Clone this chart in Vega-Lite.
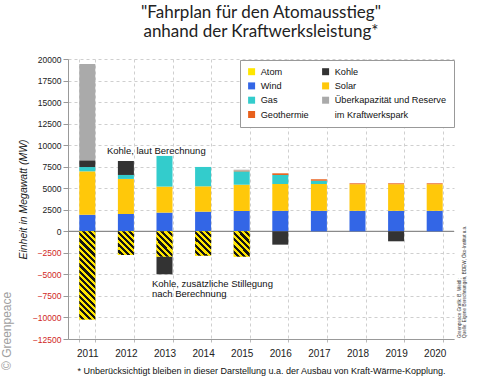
{
  "$schema": "https://vega.github.io/schema/vega-lite/v6.json",
  "width": 386,
  "height": 280,
  "autosize": {"type": "none"},
  "padding": {"left": 68, "top": 59, "right": 26, "bottom": 41},
  "background": "white",
  "config": {
    "view": {"stroke": null},
    "font": "Liberation Sans",
    "axis": {"labelFont": "Liberation Sans", "titleFont": "Liberation Sans"},
    "axisX": {"labelAngle": 0, "labelFontSize": 10, "labelColor": "#222", "labelPadding": 6, "tickBand": "extent", "grid": true, "gridDash": [3, 3], "gridColor": "#cfcfcf", "domainColor": "#999", "tickColor": "#bbb", "tickSize": 3},
    "axisY": {"grid": true, "gridDash": [3, 3], "gridColor": "#cfcfcf", "domainColor": "#999", "tickColor": "#999", "tickSize": 5, "labelFontSize": 8.5, "labelPadding": 2, "labelOverlap": false}
  },
  "title": {
    "text": ["\"Fahrplan für den Atomausstieg\"", "anhand der Kraftwerksleistung*"],
    "font": "Lato", "fontSize": 17, "fontWeight": "normal", "color": "#222",
    "lineHeight": 19, "anchor": "middle", "frame": "group", "offset": 14
  },
  "datasets": {
    "power": [
      {"year": "2011", "type": "Wind", "mw": 1920},
      {"year": "2011", "type": "Solar", "mw": 5040},
      {"year": "2011", "type": "Gas", "mw": 500},
      {"year": "2011", "type": "Kohle", "mw": 780},
      {"year": "2011", "type": "Überkapazität und Reserve im Kraftwerkspark", "mw": 11180},
      {"year": "2011", "type": "Atom", "mw": -10250},
      {"year": "2012", "type": "Wind", "mw": 2010},
      {"year": "2012", "type": "Solar", "mw": 4070},
      {"year": "2012", "type": "Gas", "mw": 460},
      {"year": "2012", "type": "Kohle", "mw": 1620},
      {"year": "2012", "type": "Atom", "mw": -2750},
      {"year": "2013", "type": "Wind", "mw": 2170},
      {"year": "2013", "type": "Solar", "mw": 3020},
      {"year": "2013", "type": "Gas", "mw": 3560},
      {"year": "2013", "type": "Atom", "mw": -2940},
      {"year": "2013", "type": "Kohle", "mw": -2050},
      {"year": "2014", "type": "Wind", "mw": 2280},
      {"year": "2014", "type": "Solar", "mw": 2940},
      {"year": "2014", "type": "Gas", "mw": 2250},
      {"year": "2014", "type": "Atom", "mw": -2830},
      {"year": "2015", "type": "Wind", "mw": 2360},
      {"year": "2015", "type": "Solar", "mw": 3050},
      {"year": "2015", "type": "Gas", "mw": 1550},
      {"year": "2015", "type": "Geothermie", "mw": 90},
      {"year": "2015", "type": "Überkapazität und Reserve im Kraftwerkspark", "mw": 100},
      {"year": "2015", "type": "Atom", "mw": -2940},
      {"year": "2016", "type": "Wind", "mw": 2380},
      {"year": "2016", "type": "Solar", "mw": 3110},
      {"year": "2016", "type": "Gas", "mw": 1050},
      {"year": "2016", "type": "Geothermie", "mw": 190},
      {"year": "2016", "type": "Kohle", "mw": -1550},
      {"year": "2017", "type": "Wind", "mw": 2380},
      {"year": "2017", "type": "Solar", "mw": 3110},
      {"year": "2017", "type": "Gas", "mw": 380},
      {"year": "2017", "type": "Geothermie", "mw": 170},
      {"year": "2018", "type": "Wind", "mw": 2380},
      {"year": "2018", "type": "Solar", "mw": 3090},
      {"year": "2018", "type": "Geothermie", "mw": 100},
      {"year": "2019", "type": "Wind", "mw": 2380},
      {"year": "2019", "type": "Solar", "mw": 3090},
      {"year": "2019", "type": "Geothermie", "mw": 100},
      {"year": "2019", "type": "Kohle", "mw": -1160},
      {"year": "2020", "type": "Wind", "mw": 2380},
      {"year": "2020", "type": "Solar", "mw": 3090},
      {"year": "2020", "type": "Geothermie", "mw": 100}
    ]
  },
  "layer": [
    {
      "data": {"values": [{}]},
      "mark": {"type": "rule", "color": "#8a8a8a", "strokeWidth": 1.2},
      "encoding": {
        "y": {"datum": 0, "type": "quantitative", "scale": {"domain": [-12500, 20000], "nice": false, "zero": false}}
      }
    },
    {
      "data": {"name": "power"},
      "transform": [
        {"calculate": "indexof(['Atom','Wind','Solar','Gas','Geothermie','Kohle','Überkapazität und Reserve im Kraftwerkspark'], datum.type)", "as": "ord"}
      ],
      "mark": {"type": "bar", "stroke": null},
      "encoding": {
        "x": {
          "field": "year", "type": "nominal",
          "scale": {"paddingInner": 0.585, "paddingOuter": 0.2925},
          "axis": {
            "title": "* Unberücksichtigt bleiben in dieser Darstellung u.a. der Ausbau von Kraft-Wärme-Kopplung.",
            "titleFontSize": 9, "titleFontWeight": "normal", "titleColor": "#111", "titlePadding": 8
          }
        },
        "y": {
          "field": "mw", "type": "quantitative", "stack": "zero",
          "scale": {"domain": [-12500, 20000], "nice": false, "zero": false},
          "axis": {
            "title": "Einheit in Megawatt (MW)",
            "titleFontStyle": "italic", "titleFontWeight": "normal", "titleFontSize": 10.5, "titleColor": "#222", "titlePadding": 4,
            "values": [-12500, -10000, -7500, -5000, -2500, 0, 2500, 5000, 7500, 10000, 12500, 15000, 17500, 20000],
            "tickCount": 20,
            "format": "d", "labelOverlap": false,
            "labelColor": {"condition": {"test": "datum.value < 0", "value": "#d0281e"}, "value": "#222222"}
          }
        },
        "color": {
          "field": "type", "type": "nominal",
          "scale": {
            "domain": ["Atom", "Wind", "Gas", "Geothermie", "Kohle", "Solar", "Überkapazität und Reserve im Kraftwerkspark", "im Kraftwerkspark"],
            "range": ["#ffe600", "#3366e6", "#33cccc", "#e8601c", "#333333", "#ffc80a", "#aaaaaa", "transparent"]
          },
          "legend": {
            "title": null, "orient": "none", "legendX": 172, "legendY": 1,
            "columns": 2, "columnPadding": 12, "rowPadding": 4.3,
            "symbolType": "square", "symbolSize": 49,
            "labelFont": "Liberation Sans", "labelFontSize": 9.2, "labelColor": "#111", "labelOffset": 4.5,
            "labelLimit": 200,
            "labelExpr": "datum.label === 'Überkapazität und Reserve im Kraftwerkspark' ? 'Überkapazität und Reserve' : datum.label",
            "padding": 7, "fillColor": "white", "strokeColor": "#999",
            "encode": {
              "symbols": {
                "stroke": {"condition": {"test": "datum.value === 'Atom'", "value": "#000000"}, "value": "transparent"},
                "strokeWidth": {"value": 1.5}
              },
              "labels": {
                "dy": {"condition": {"test": "datum.value === 'im Kraftwerkspark'", "value": -6}, "value": 0}
              }
            }
          }
        },
        "order": {"field": "ord", "type": "quantitative"}
      }
    },
    {
      "data": {"name": "power"},
      "transform": [{"filter": "datum.type === 'Atom' && datum.year === '2011'"}],
      "mark": {
        "type": "bar",
        "fill": {
          "gradient": "linear", "x1": 0, "y1": 1, "x2": 0.2075, "y2": -0.1437,
          "stops": [
            {"offset": 0, "color": "#ffe600"}, {"offset": 0.03, "color": "#ffe600"}, {"offset": 0.03, "color": "#151515"}, {"offset": 0.06, "color": "#151515"},
            {"offset": 0.06, "color": "#ffe600"}, {"offset": 0.09, "color": "#ffe600"}, {"offset": 0.09, "color": "#151515"}, {"offset": 0.12, "color": "#151515"},
            {"offset": 0.12, "color": "#ffe600"}, {"offset": 0.15, "color": "#ffe600"}, {"offset": 0.15, "color": "#151515"}, {"offset": 0.18, "color": "#151515"},
            {"offset": 0.18, "color": "#ffe600"}, {"offset": 0.21, "color": "#ffe600"}, {"offset": 0.21, "color": "#151515"}, {"offset": 0.24, "color": "#151515"},
            {"offset": 0.24, "color": "#ffe600"}, {"offset": 0.27, "color": "#ffe600"}, {"offset": 0.27, "color": "#151515"}, {"offset": 0.30, "color": "#151515"},
            {"offset": 0.30, "color": "#ffe600"}, {"offset": 0.33, "color": "#ffe600"}, {"offset": 0.33, "color": "#151515"}, {"offset": 0.36, "color": "#151515"},
            {"offset": 0.36, "color": "#ffe600"}, {"offset": 0.39, "color": "#ffe600"}, {"offset": 0.39, "color": "#151515"}, {"offset": 0.42, "color": "#151515"},
            {"offset": 0.42, "color": "#ffe600"}, {"offset": 0.45, "color": "#ffe600"}, {"offset": 0.45, "color": "#151515"}, {"offset": 0.48, "color": "#151515"},
            {"offset": 0.48, "color": "#ffe600"}, {"offset": 0.51, "color": "#ffe600"}, {"offset": 0.51, "color": "#151515"}, {"offset": 0.54, "color": "#151515"},
            {"offset": 0.54, "color": "#ffe600"}, {"offset": 0.57, "color": "#ffe600"}, {"offset": 0.57, "color": "#151515"}, {"offset": 0.60, "color": "#151515"},
            {"offset": 0.60, "color": "#ffe600"}, {"offset": 0.63, "color": "#ffe600"}, {"offset": 0.63, "color": "#151515"}, {"offset": 0.66, "color": "#151515"},
            {"offset": 0.66, "color": "#ffe600"}, {"offset": 0.69, "color": "#ffe600"}, {"offset": 0.69, "color": "#151515"}, {"offset": 0.72, "color": "#151515"},
            {"offset": 0.72, "color": "#ffe600"}, {"offset": 0.75, "color": "#ffe600"}, {"offset": 0.75, "color": "#151515"}, {"offset": 0.78, "color": "#151515"},
            {"offset": 0.78, "color": "#ffe600"}, {"offset": 0.81, "color": "#ffe600"}, {"offset": 0.81, "color": "#151515"}, {"offset": 0.84, "color": "#151515"},
            {"offset": 0.84, "color": "#ffe600"}, {"offset": 0.87, "color": "#ffe600"}, {"offset": 0.87, "color": "#151515"}, {"offset": 0.90, "color": "#151515"},
            {"offset": 0.90, "color": "#ffe600"}, {"offset": 0.93, "color": "#ffe600"}, {"offset": 0.93, "color": "#151515"}, {"offset": 0.96, "color": "#151515"},
            {"offset": 0.96, "color": "#ffe600"}, {"offset": 0.99, "color": "#ffe600"}, {"offset": 0.99, "color": "#151515"}, {"offset": 1, "color": "#151515"}
          ]
        }
      },
      "encoding": {
        "x": {"field": "year", "type": "nominal"},
        "y": {"field": "mw", "type": "quantitative", "stack": null, "scale": {"domain": [-12500, 20000], "nice": false, "zero": false}}
      }
    },
    {
      "data": {"name": "power"},
      "transform": [{"filter": "datum.type === 'Atom' && datum.year !== '2011'"}],
      "mark": {
        "type": "bar",
        "fill": {
          "gradient": "linear", "x1": 0, "y1": 1, "x2": 0.7524, "y2": -0.16,
          "stops": [
            {"offset": 0, "color": "#ffe600"}, {"offset": 0.0775, "color": "#ffe600"}, {"offset": 0.0775, "color": "#151515"}, {"offset": 0.155, "color": "#151515"},
            {"offset": 0.155, "color": "#ffe600"}, {"offset": 0.2325, "color": "#ffe600"}, {"offset": 0.2325, "color": "#151515"}, {"offset": 0.31, "color": "#151515"},
            {"offset": 0.31, "color": "#ffe600"}, {"offset": 0.3875, "color": "#ffe600"}, {"offset": 0.3875, "color": "#151515"}, {"offset": 0.465, "color": "#151515"},
            {"offset": 0.465, "color": "#ffe600"}, {"offset": 0.5425, "color": "#ffe600"}, {"offset": 0.5425, "color": "#151515"}, {"offset": 0.62, "color": "#151515"},
            {"offset": 0.62, "color": "#ffe600"}, {"offset": 0.6975, "color": "#ffe600"}, {"offset": 0.6975, "color": "#151515"}, {"offset": 0.775, "color": "#151515"},
            {"offset": 0.775, "color": "#ffe600"}, {"offset": 0.8525, "color": "#ffe600"}, {"offset": 0.8525, "color": "#151515"}, {"offset": 0.93, "color": "#151515"},
            {"offset": 0.93, "color": "#ffe600"}, {"offset": 1, "color": "#ffe600"}
          ]
        }
      },
      "encoding": {
        "x": {"field": "year", "type": "nominal"},
        "y": {"field": "mw", "type": "quantitative", "stack": null, "scale": {"domain": [-12500, 20000], "nice": false, "zero": false}}
      }
    },
    {
      "data": {"values": [{"year": "2012", "mw": 9300}]},
      "mark": {"type": "text", "text": "Kohle, laut Berechnung", "align": "left", "baseline": "middle", "dx": -19, "fontSize": 9.5, "color": "#111", "font": "Liberation Sans"},
      "encoding": {
        "x": {"field": "year", "type": "nominal"},
        "y": {"field": "mw", "type": "quantitative", "scale": {"domain": [-12500, 20000], "nice": false, "zero": false}}
      }
    },
    {
      "data": {"values": [{"year": "2013", "mw": -5480}]},
      "mark": {"type": "text", "text": ["Kohle, zusätzliche Stillegung", "nach Berechnung"], "align": "left", "baseline": "top", "dx": -12.5, "fontSize": 9.5, "lineHeight": 10.5, "color": "#111", "font": "Liberation Sans"},
      "encoding": {
        "x": {"field": "year", "type": "nominal"},
        "y": {"field": "mw", "type": "quantitative", "scale": {"domain": [-12500, 20000], "nice": false, "zero": false}}
      }
    },
    {
      "data": {"values": [{"year": "2011", "mw": -12500}]},
      "mark": {"type": "text", "text": "© Greenpeace", "angle": 270, "align": "left", "baseline": "middle", "dx": -31, "dy": -80, "fontSize": 12, "color": "#a0a0a0", "font": "Liberation Sans"},
      "encoding": {
        "x": {"field": "year", "type": "nominal"},
        "y": {"field": "mw", "type": "quantitative", "scale": {"domain": [-12500, 20000], "nice": false, "zero": false}}
      }
    },
    {
      "data": {"values": [{"year": "2020", "mw": -12500}]},
      "mark": {"type": "text", "text": ["Greenpeace Grafik: B. Weidl;", "Quelle: Eigene Berechnungen, BDEW, Öko-Institut u.a."], "angle": 270, "align": "left", "baseline": "top", "dx": 1, "dy": 22, "fontSize": 4.6, "lineHeight": 5, "color": "#333", "font": "Liberation Sans"},
      "encoding": {
        "x": {"field": "year", "type": "nominal"},
        "y": {"field": "mw", "type": "quantitative", "scale": {"domain": [-12500, 20000], "nice": false, "zero": false}}
      }
    }
  ]
}
